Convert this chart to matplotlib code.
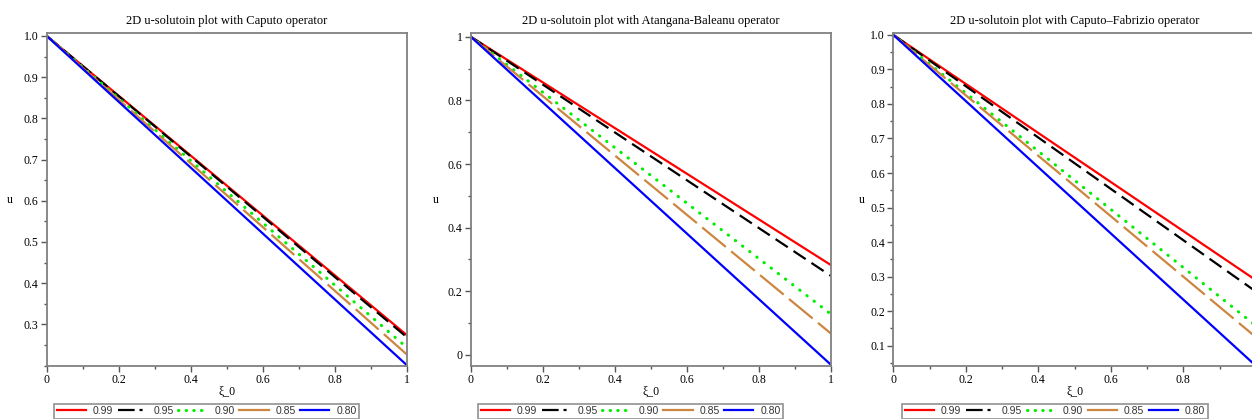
import matplotlib
matplotlib.use("Agg")
import matplotlib.pyplot as plt
from matplotlib.lines import Line2D
from matplotlib.ticker import MultipleLocator, FixedFormatter, FixedLocator

# fractional orders and end values u(1) (all curves start at u(0)=1)
orders = ["0.99", "0.95", "0.90", "0.85", "0.80"]
xi = [0.0, 1.0]
u_caputo = [[1.0, 0.273], [1.0, 0.268], [1.0, 0.243], [1.0, 0.226], [1.0, 0.200]]
u_ab = [[1.0, 0.283], [1.0, 0.249], [1.0, 0.129], [1.0, 0.068], [1.0, -0.030]]
u_cf = [[1.0, 0.290], [1.0, 0.257], [1.0, 0.158], [1.0, 0.125], [1.0, 0.042]]

titles = ["2D u-solutoin plot with Caputo operator",
          "2D u-solutoin plot with Atangana-Baleanu operator",
          "2D u-solutoin plot with Caputo\u2013Fabrizio operator"]

colors = ["#ff0000", "#000000", "#00ee00", "#cd853f", "#0000ff"]
# dash patterns in points
styles = ["-", (0, (10.5, 5)), (0, (0.3, 6.2)), (0, (22, 5)), "-"]
leg_styles = ["-", (0, (12, 3.5, 2.2, 3.5)), (0, (0.3, 5.2)), "-", "-"]

plt.rcParams["lines.scale_dashes"] = False
serif = ["Liberation Serif", "DejaVu Serif"]
sans = ["Liberation Sans", "DejaVu Sans"]
gray = "#808080"

W, H = 1252, 419
fig = plt.figure(figsize=(W / 100, H / 100), dpi=100)

# axes boxes in pixels: left, right
boxes = [(46.7, 407.3), (470.7, 830.7), (893.3, 1255.8)]
top_px, bot_px = 33.5, 366.0
ylims = [(0.199, 1.006), (-0.0346, 1.01), (0.0413, 1.004)]
ymaj = [0.1, 0.2, 0.1]
ylab_x = [10, 436, 862]
leg_cx = [206.5, 630.5, 1055.0]

datasets = [u_caputo, u_ab, u_cf]

for k in range(3):
    l, r = boxes[k]
    ax = fig.add_axes([l / W, 1 - bot_px / H, (r - l) / W, (bot_px - top_px) / H])
    for i in range(5):
        ax.plot(xi, datasets[k][i], color=colors[i], linestyle=styles[i],
                lw=1.6 if i != 2 else 2.2,
                dash_capstyle="butt" if i != 2 else "round")
    ax.set_xlim(0, 1)
    ax.set_ylim(*ylims[k])
    if k == 2:
        # right end of this panel is cut off by the picture edge
        ax.xaxis.set_major_locator(FixedLocator([0, 0.2, 0.4, 0.6, 0.8]))
        ax.xaxis.set_major_formatter(FixedFormatter(["0", "0.2", "0.4", "0.6", "0.8"]))
    else:
        ax.xaxis.set_major_locator(FixedLocator([0, 0.2, 0.4, 0.6, 0.8, 1.0]))
        ax.xaxis.set_major_formatter(FixedFormatter(["0", "0.2", "0.4", "0.6", "0.8", "1"]))
    ax.xaxis.set_minor_locator(MultipleLocator(0.1))
    if k == 0:
        yt = [0.3, 0.4, 0.5, 0.6, 0.7, 0.8, 0.9, 1.0]
        ylabs = ["%.1f" % v for v in yt]
    elif k == 1:
        yt = [0, 0.2, 0.4, 0.6, 0.8, 1.0]
        ylabs = ["0", "0.2", "0.4", "0.6", "0.8", "1"]
    else:
        yt = [0.1, 0.2, 0.3, 0.4, 0.5, 0.6, 0.7, 0.8, 0.9, 1.0]
        ylabs = ["%.1f" % v for v in yt]
    ax.yaxis.set_major_locator(FixedLocator(yt))
    ax.yaxis.set_major_formatter(FixedFormatter(ylabs))
    ax.yaxis.set_minor_locator(MultipleLocator(ymaj[k] / 2))
    for s in ax.spines.values():
        s.set_color(gray)
        s.set_linewidth(1.3)
    ax.tick_params(which="major", direction="out", length=4, width=1, color="#555555",
                   labelsize=8.5, pad=2)
    ax.tick_params(which="minor", direction="out", length=2.5, width=1, color="#555555")
    for t in ax.get_xticklabels() + ax.get_yticklabels():
        t.set_fontfamily(serif)
    ax.set_title(titles[k], fontsize=9.0, family=serif, pad=7)
    fig.text(((l + r) / 2 if k < 2 else 1075) / W, 1 - 392 / H, "\u03be_0",
             fontsize=8.5, family=serif, ha="center", va="center")
    fig.text(ylab_x[k] / W, 1 - 200 / H, "u", fontsize=8.5, family=serif,
             ha="center", va="center")

    handles = [Line2D([], [], color=colors[i], linestyle=leg_styles[i],
                      lw=1.6 if i != 2 else 2.2,
                      dash_capstyle="butt" if i != 2 else "round")
               for i in range(5)]
    leg = ax.legend(handles, orders, loc="upper center", ncol=5,
                    bbox_to_anchor=(leg_cx[k] / W, 1 - 403.5 / H),
                    bbox_transform=fig.transFigure,
                    prop={"family": sans, "size": 7.5},
                    handlelength=2.8, handletextpad=0.65, columnspacing=0.45,
                    borderpad=0.25, borderaxespad=0, frameon=True, fancybox=False)
    leg.get_frame().set_edgecolor(gray)
    leg.get_frame().set_linewidth(1.3)
    for t in leg.get_texts():
        t.set_color("#333333")

fig.savefig("out.png", dpi=100)
